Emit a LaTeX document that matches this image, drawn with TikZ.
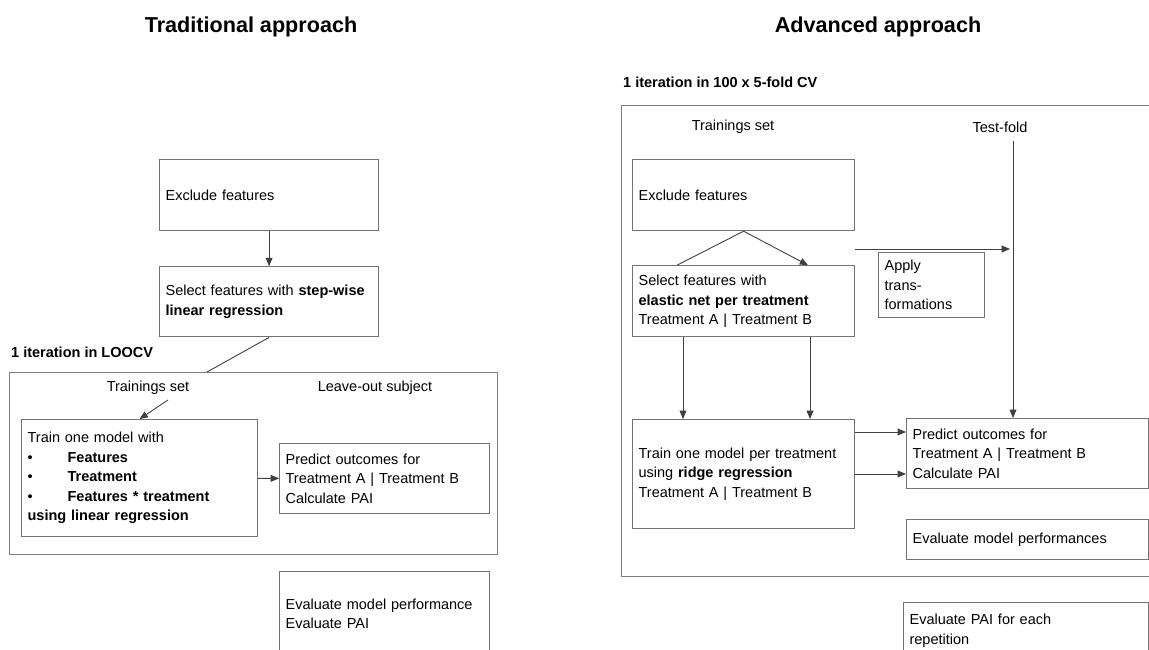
\documentclass[tikz,border=0pt]{standalone}
\usepackage{fontspec}
\setmainfont{Liberation Sans}
\usepackage{tikz}
\usetikzlibrary{positioning, calc, arrows}
\tikzset{>=triangle 45}

\begin{document}
\begin{tikzpicture}
    [x=1pt, y=1pt,
      box/.style 2 args={draw=black!55, line width=1.2pt, anchor=north west,
        align=left, inner xsep=6pt, inner ysep=0pt, text width=#1,
        minimum height=#2, text=black, font=\fontsize{14.5}{19.5}\selectfont},
      frame/.style={draw=black!50, line width=1.3pt, anchor=north west, inner sep=0pt},
      lbl/.style={inner sep=0pt, text=black, font=\fontsize{14.5}{19.5}\selectfont},
      head/.style={inner sep=0pt, anchor=west, text=black,
        font=\fontsize{14.5}{19.5}\selectfont\bfseries},
      title/.style={inner sep=0pt, font=\fontsize{21.6}{25}\selectfont\bfseries},
      link/.style={draw=black!75, line width=0.9pt}]

    \useasboundingbox (0,0) rectangle (1149,-650);
    \clip (0,0) rectangle (1149,-650);

    \node[title] (tradT) at (251,-27) {Traditional approach};
    \node[title] (advT) at (878,-27) {Advanced approach};

    % traditional approach
    \node[box={207pt}{71pt}] (exclA) at (159,-159) {Exclude features};
    \node[box={207pt}{70pt}, below=35pt of exclA]
    (selA) {Select features with \textbf{step-wise}\\\textbf{linear regression}};
    \node[head] (itA) at (11,-352) {1 iteration in LOOCV};
    \node[frame, minimum width=488pt, minimum height=182pt] (loocv) at (9,-372) {};
    \node[lbl] (trsetA) at (148,-388) {Trainings set};
    \node[lbl] (leaveA) at (375,-388) {Leave-out subject};
    \node[box={224pt}{117pt}] (trainA) at (21,-419)
    {Train one model with\\
      \makebox[40pt][l]{\textbullet}\textbf{Features}\\
      \makebox[40pt][l]{\textbullet}\textbf{Treatment}\\
      \makebox[40pt][l]{\textbullet}\textbf{Features * treatment}\\
      \textbf{using linear regression}};
    \node[box={198pt}{70pt}] (predA) at (279,-443)
    {Predict outcomes for\\Treatment A | Treatment B\\Calculate PAI};
    \node[box={198pt}{84pt}] (evalA) at (279,-571)
    {Evaluate model performance\\Evaluate PAI};

    \coordinate (jA) at (207,-372);
    \coordinate (sA) at (168,-400);
    \draw[link, ->] (exclA) -- (selA);
    \draw[link] (selA.south) -- (jA);
    \draw[link, ->] (sA) -- (trainA.north);
    \draw[link, ->] (trainA) -- (predA);

    % advanced approach
    \node[head] (itB) at (623,-82) {1 iteration in 100 x 5-fold CV};
    \node[frame, minimum width=540pt, minimum height=471pt] (cv) at (621,-105) {};
    \node[lbl] (trsetB) at (733,-127) {Trainings set};
    \node[lbl] (testB) at (1000,-127) {Test-fold};
    \node[box={210pt}{71pt}] (exclB) at (632,-159) {Exclude features};
    \node[box={210pt}{71pt}, below=34pt of exclB]
    (selB) {Select features with\\\textbf{elastic net per treatment}\\Treatment A | Treatment B};
    \node[box={94pt}{65pt}] (applyB) at (878,-252) {Apply\\trans-\\formations};
    \node[box={210pt}{109pt}] (trainB) at (632,-419)
    {Train one model per treatment\\using \textbf{ridge regression}\\Treatment A | Treatment B};
    \node[box={230pt}{70pt}] (predB) at (906,-418)
    {Predict outcomes for\\Treatment A | Treatment B\\Calculate PAI};
    \node[box={230pt}{40pt}] (perfB) at (906,-519) {Evaluate model performances};
    \node[box={233pt}{56pt}] (paiB) at (903,-602) {Evaluate PAI for each\\repetition};

    \coordinate (tA) at (855,-249);
    \coordinate (tB) at (1010,-249);
    \coordinate (tf) at (1013,-141);
    \draw[link] (exclB.south) -- ($(selB.north west)+(45,0)$);
    \draw[link, ->] (exclB.south) -- ($(selB.north west)+(176,0)$);
    \draw[link, ->] (tA) -- (tB);
    \draw[link, ->] (tf) -- (tf |- predB.north);
    \draw[link, ->] ($(selB.south west)+(51,0)$) -- ($(trainB.north west)+(51,0)$);
    \draw[link, ->] ($(selB.south west)+(178,0)$) -- ($(trainB.north west)+(178,0)$);
    \draw[link, ->] ([yshift=-13pt]trainB.north east) coordinate (oA) -- (oA -| predB.west);
    \draw[link, ->] ([yshift=-55pt]trainB.north east) coordinate (oB) -- (oB -| predB.west);
  \end{tikzpicture}
\end{document}
